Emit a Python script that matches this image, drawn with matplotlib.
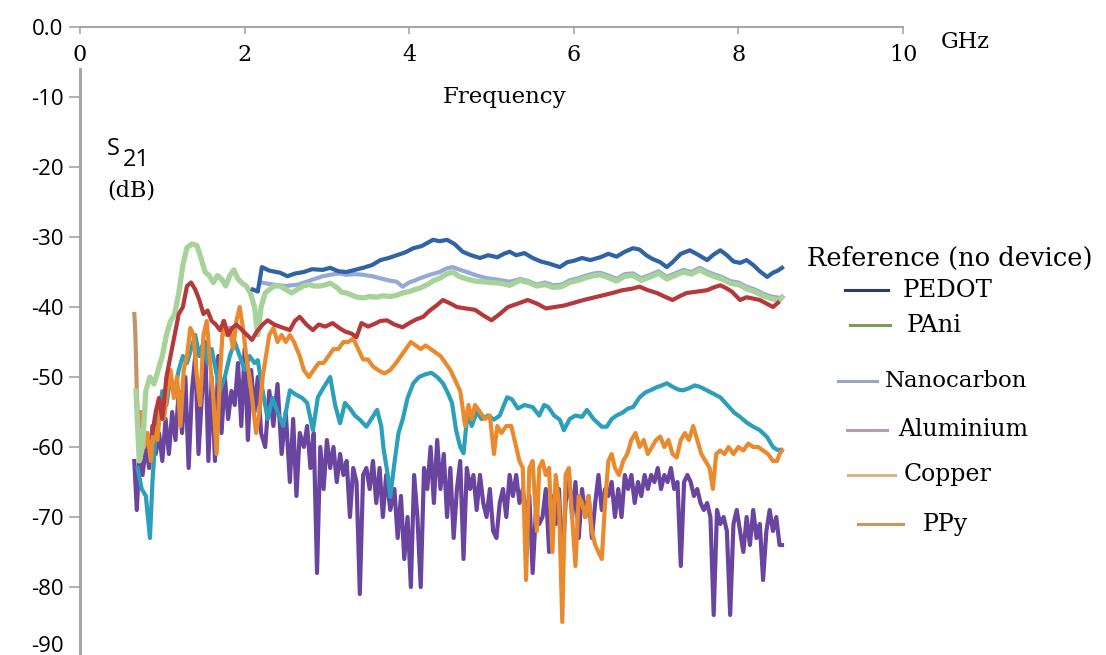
import matplotlib
matplotlib.use("Agg")
import matplotlib.pyplot as plt
from matplotlib.lines import Line2D

plt.rcParams['font.family'] = ['DejaVu Serif']
SANS = ['Open Sans', 'DejaVu Sans']

# ------------------------------
# Data (frequency in GHz, S21 in dB)
blue_f = [2.10, 2.16, 2.21, 2.30, 2.43, 2.52, 2.62, 2.72, 2.82, 2.95, 3.04, 3.14, 3.24, 3.34, 3.44, 3.55,
          3.65, 3.75, 3.85, 3.95, 4.05, 4.15, 4.29, 4.37, 4.46, 4.55, 4.65, 4.75, 4.86, 4.96, 5.07, 5.15,
          5.22, 5.30, 5.40, 5.50, 5.60, 5.70, 5.83, 5.92, 6.00, 6.10, 6.20, 6.32, 6.42, 6.52, 6.62, 6.72,
          6.80, 6.88, 6.95, 7.05, 7.13, 7.20, 7.30, 7.41, 7.52, 7.62, 7.70, 7.78, 7.86, 7.94, 8.02, 8.10,
          8.18, 8.26, 8.35, 8.42, 8.48, 8.53]
blue_db = [-37.5, -37.8, -34.3, -34.8, -35.1, -35.6, -35.2, -35.0, -34.6, -34.7, -34.4, -34.9, -35.0, -34.7,
           -34.4, -34.0, -33.3, -33.0, -32.6, -32.2, -31.6, -31.3, -30.4, -30.6, -30.4, -31.0, -32.1, -32.6,
           -33.0, -32.6, -32.9, -32.4, -32.1, -32.6, -32.3, -33.0, -33.5, -33.8, -34.3, -33.6, -33.4, -33.0,
           -33.3, -32.9, -32.4, -32.8, -32.1, -31.6, -31.8, -32.6, -33.1, -33.6, -34.3, -33.6, -32.4, -31.9,
           -32.6, -33.3, -32.5, -31.9, -32.6, -33.5, -33.7, -33.3, -34.0, -34.9, -35.7, -35.1, -34.8, -34.4]

lblue_f = [2.20, 2.35, 2.50, 2.65, 2.80, 2.95, 3.04, 3.15, 3.24, 3.34, 3.44, 3.55, 3.65, 3.75, 3.85, 3.92,
           4.00, 4.07, 4.13, 4.25, 4.37, 4.45, 4.53, 4.62, 4.70, 4.82, 4.95, 5.08, 5.22, 5.35, 5.45, 5.55,
           5.65, 5.75, 5.85, 5.95, 6.05, 6.15, 6.25, 6.32, 6.42, 6.52, 6.62, 6.72, 6.82, 6.93, 7.03, 7.13,
           7.23, 7.33, 7.43, 7.53, 7.63, 7.72, 7.80, 7.90, 8.00, 8.10, 8.20, 8.30, 8.40, 8.50]
lblue_db = [-36.5, -36.8, -37.0, -36.8, -36.2, -35.6, -35.4, -35.2, -35.4, -35.3, -35.4, -35.6, -35.9, -36.2,
            -36.4, -37.1, -36.5, -36.2, -35.9, -35.4, -35.0, -34.5, -34.3, -34.7, -35.0, -35.5, -35.9, -36.1,
            -36.4, -36.0, -36.3, -36.8, -36.5, -36.9, -36.8, -36.2, -35.9, -35.5, -35.2, -35.1, -35.5, -36.0,
            -35.3, -35.2, -35.9, -35.4, -34.9, -35.7, -35.2, -34.7, -35.0, -34.4, -35.0, -35.4, -35.7, -36.3,
            -36.5, -37.1, -37.5, -38.1, -38.5, -38.7]

green_f = [0.68, 0.72, 0.76, 0.80, 0.85, 0.90, 0.95, 1.00, 1.05, 1.10, 1.15, 1.20, 1.25, 1.30, 1.36, 1.42,
           1.47, 1.52, 1.57, 1.62, 1.67, 1.72, 1.77, 1.82, 1.87, 1.92, 1.97, 2.02, 2.07, 2.12, 2.16, 2.20,
           2.25, 2.30, 2.36, 2.43, 2.50, 2.57, 2.64, 2.71, 2.78, 2.85, 2.92, 2.99, 3.04, 3.12, 3.18, 3.24,
           3.30, 3.37, 3.44, 3.52, 3.60, 3.68, 3.77, 3.85, 3.92, 4.00, 4.07, 4.13, 4.22, 4.30, 4.37, 4.45,
           4.53, 4.60, 4.70, 4.80, 4.90, 5.00, 5.10, 5.22, 5.35, 5.45, 5.55, 5.65, 5.75, 5.85, 5.95, 6.05,
           6.15, 6.25, 6.32, 6.42, 6.52, 6.62, 6.72, 6.82, 6.93, 7.03, 7.13, 7.23, 7.33, 7.43, 7.53, 7.63,
           7.72, 7.80, 7.90, 8.00, 8.10, 8.20, 8.30, 8.40, 8.50, 8.53]
green_db = [-52.0, -62.0, -60.0, -52.0, -50.0, -51.0, -49.0, -47.0, -44.0, -42.0, -41.0, -38.0, -34.0, -31.5,
            -31.0, -31.2, -33.0, -35.0, -35.5, -36.5, -35.5, -36.0, -37.0, -35.5, -34.7, -36.0, -36.6, -37.0,
            -38.0, -40.0, -44.0, -40.0, -38.0, -37.5, -37.0, -37.0, -37.5, -38.0, -37.5, -37.0, -36.8, -37.0,
            -37.0, -36.8, -36.6, -37.2, -37.9, -38.0, -38.3, -38.6, -38.7, -38.5, -38.6, -38.4, -38.5, -38.3,
            -38.0, -37.8, -37.5, -37.3, -36.8, -36.2, -35.9, -35.3, -35.0, -35.6, -36.0, -36.3, -36.4, -36.5,
            -36.6, -36.9, -36.2, -36.5, -37.0, -36.8, -37.2, -37.1, -36.5, -36.2, -35.8, -35.5, -35.4, -35.8,
            -36.3, -35.6, -35.5, -36.2, -35.7, -35.2, -36.0, -35.5, -35.0, -35.3, -34.7, -35.3, -35.7, -36.0,
            -36.6, -36.8, -37.4, -37.8, -38.4, -38.8, -39.0, -38.6]

red_f = [0.88, 0.92, 0.96, 1.00, 1.05, 1.10, 1.15, 1.20, 1.25, 1.30, 1.35, 1.40, 1.45, 1.50, 1.55, 1.60,
         1.65, 1.70, 1.75, 1.80, 1.85, 1.90, 1.97, 2.03, 2.09, 2.15, 2.22, 2.28, 2.36, 2.45, 2.55, 2.61,
         2.67, 2.75, 2.83, 2.90, 2.98, 3.07, 3.15, 3.22, 3.30, 3.36, 3.42, 3.50, 3.58, 3.65, 3.73, 3.82,
         3.92, 4.00, 4.08, 4.17, 4.25, 4.33, 4.41, 4.50, 4.58, 4.68, 4.80, 4.90, 5.00, 5.10, 5.20, 5.30,
         5.44, 5.55, 5.66, 5.77, 5.88, 6.00, 6.12, 6.26, 6.40, 6.50, 6.59, 6.70, 6.80, 6.90, 7.01, 7.10,
         7.20, 7.28, 7.37, 7.50, 7.62, 7.70, 7.78, 7.85, 7.92, 8.02, 8.10, 8.18, 8.26, 8.34, 8.42, 8.48]
red_db = [-58.0, -55.0, -53.0, -56.0, -50.0, -47.0, -44.0, -41.0, -40.0, -37.0, -36.5, -37.5, -39.0, -41.0,
          -40.5, -42.0, -42.5, -43.3, -42.0, -44.0, -43.0, -42.5, -43.3, -44.0, -44.7, -43.5, -42.5, -41.9,
          -42.5, -42.9, -43.3, -42.0, -41.4, -42.5, -43.3, -42.5, -42.8, -42.3, -43.0, -43.5, -43.8, -44.3,
          -42.3, -42.8, -42.4, -42.0, -41.9, -42.5, -42.9, -42.3, -41.8, -41.4, -40.5, -39.8, -39.0, -39.5,
          -40.0, -40.2, -40.4, -41.2, -41.9, -41.0, -40.0, -39.6, -39.0, -39.5, -40.2, -40.0, -39.8, -39.4,
          -39.0, -38.6, -38.2, -37.9, -37.6, -37.4, -37.1, -37.6, -38.0, -38.5, -39.0, -38.5, -38.0, -37.8,
          -37.6, -37.2, -36.9, -37.3, -37.8, -39.0, -38.6, -38.8, -39.0, -39.5, -40.0, -39.4]

teal_f = [0.70, 0.75, 0.80, 0.85, 0.88, 0.92, 0.96, 1.00, 1.05, 1.10, 1.15, 1.20, 1.25, 1.30, 1.35, 1.40,
          1.45, 1.50, 1.55, 1.60, 1.65, 1.70, 1.76, 1.82, 1.88, 1.94, 2.00, 2.06, 2.12, 2.16, 2.22, 2.28,
          2.34, 2.40, 2.47, 2.55, 2.62, 2.70, 2.76, 2.83, 2.89, 2.96, 3.04, 3.10, 3.16, 3.22, 3.28, 3.34,
          3.40, 3.48, 3.54, 3.61, 3.66, 3.69, 3.74, 3.77, 3.82, 3.87, 3.92, 3.98, 4.05, 4.12, 4.20, 4.27,
          4.34, 4.41, 4.47, 4.52, 4.57, 4.62, 4.66, 4.71, 4.76, 4.82, 4.88, 4.96, 5.03, 5.10, 5.19, 5.25,
          5.32, 5.40, 5.50, 5.58, 5.64, 5.69, 5.76, 5.83, 5.88, 5.95, 6.02, 6.10, 6.16, 6.24, 6.34, 6.40,
          6.46, 6.52, 6.59, 6.66, 6.72, 6.80, 6.87, 6.93, 7.00, 7.07, 7.13, 7.20, 7.27, 7.33, 7.40, 7.47,
          7.53, 7.60, 7.68, 7.78, 7.88, 7.95, 8.02, 8.10, 8.18, 8.26, 8.35, 8.42, 8.47, 8.52]
teal_db = [-63.0, -66.0, -67.0, -73.0, -65.0, -58.0, -55.0, -52.0, -54.0, -50.0, -52.0, -49.0, -47.0, -48.0,
           -46.0, -44.0, -47.0, -45.0, -48.0, -46.0, -49.0, -52.0, -50.0, -47.0, -45.0, -47.0, -49.0, -47.0,
           -48.0, -47.6, -52.0, -56.0, -53.0, -55.0, -57.0, -51.9, -52.5, -53.0, -53.7, -57.6, -52.9, -51.5,
           -50.0, -54.0, -56.6, -53.7, -54.5, -55.5, -56.1, -57.1, -56.0, -54.7, -57.0, -60.4, -64.0, -67.1,
           -62.3, -58.0, -56.1, -53.0, -50.9, -50.0, -49.6, -49.4, -50.0, -50.9, -52.3, -53.7, -57.6, -60.0,
           -60.9, -55.0, -57.0, -55.0, -56.0, -55.5, -56.1, -55.5, -52.9, -53.2, -54.5, -54.0, -54.3, -55.5,
           -54.0, -54.3, -55.5, -56.1, -57.6, -56.0, -55.5, -55.7, -54.7, -56.0, -57.1, -57.1, -56.0, -55.5,
           -55.1, -54.5, -54.3, -52.9, -52.2, -51.9, -51.5, -51.2, -50.9, -51.4, -51.8, -51.9, -51.6, -51.2,
           -51.4, -51.8, -52.3, -52.9, -54.2, -55.1, -55.7, -56.5, -57.1, -57.6, -58.6, -60.0, -60.4, -60.4]

orange_f = [0.70, 0.74, 0.78, 0.82, 0.86, 0.90, 0.94, 0.98, 1.02, 1.06, 1.10, 1.14, 1.18, 1.22, 1.26, 1.30,
            1.34, 1.38, 1.42, 1.46, 1.50, 1.54, 1.58, 1.62, 1.66, 1.70, 1.74, 1.78, 1.82, 1.86, 1.90, 1.94,
            1.98, 2.02, 2.06, 2.10, 2.14, 2.18, 2.22, 2.26, 2.30, 2.35, 2.40, 2.45, 2.50, 2.55, 2.60, 2.67,
            2.72, 2.78, 2.84, 2.90, 2.96, 3.02, 3.08, 3.14, 3.20, 3.26, 3.32, 3.38, 3.44, 3.50, 3.56, 3.62,
            3.70, 3.77, 3.84, 3.90, 3.96, 4.02, 4.08, 4.14, 4.20, 4.26, 4.32, 4.38, 4.44, 4.50, 4.56, 4.62,
            4.68, 4.72, 4.76, 4.80, 4.86, 4.92, 4.98, 5.03, 5.07, 5.12, 5.18, 5.24, 5.30, 5.34, 5.38, 5.42,
            5.46, 5.50, 5.55, 5.58, 5.62, 5.66, 5.70, 5.74, 5.78, 5.82, 5.86, 5.90, 5.94, 5.98, 6.02, 6.06,
            6.10, 6.14, 6.18, 6.22, 6.26, 6.30, 6.34, 6.38, 6.42, 6.46, 6.50, 6.55, 6.60, 6.65, 6.70, 6.75,
            6.80, 6.85, 6.90, 6.95, 7.00, 7.05, 7.10, 7.15, 7.20, 7.25, 7.30, 7.35, 7.40, 7.45, 7.50, 7.55,
            7.60, 7.65, 7.69, 7.73, 7.78, 7.83, 7.88, 7.94, 8.00, 8.06, 8.12, 8.18, 8.24, 8.30, 8.36, 8.42,
            8.47, 8.50, 8.53]
orange_db = [-57.0, -55.0, -60.0, -58.0, -62.0, -57.0, -59.0, -54.0, -56.0, -52.0, -49.0, -53.0, -50.0, -57.0,
             -49.0, -47.0, -43.0, -44.0, -50.0, -54.0, -44.0, -42.0, -48.0, -53.0, -61.0, -50.0, -42.0, -44.0,
             -43.0, -46.0, -42.0, -40.0, -43.0, -47.0, -50.0, -54.0, -58.0, -55.0, -50.0, -47.0, -44.0, -43.0,
             -45.0, -44.0, -45.0, -44.0, -45.0, -47.0, -49.0, -50.0, -49.0, -48.0, -48.0, -47.0, -46.0, -46.0,
             -45.0, -45.0, -44.5, -46.0, -47.5, -47.5, -48.5, -49.0, -49.5, -49.0, -48.0, -47.0, -46.0, -45.0,
             -45.5, -46.0, -45.5, -46.0, -46.5, -47.0, -48.0, -49.0, -50.5, -52.0, -57.0, -54.0, -56.0, -54.0,
             -55.0, -56.0, -55.5, -61.0, -57.0, -58.0, -57.0, -57.0, -60.0, -62.0, -63.0, -79.0, -63.0, -62.0,
             -72.0, -63.0, -62.0, -64.0, -63.0, -75.0, -64.0, -68.0, -85.0, -64.0, -63.0, -70.0, -77.0, -67.0,
             -68.0, -70.0, -67.0, -72.0, -74.0, -75.0, -76.0, -68.0, -62.0, -61.0, -63.0, -64.0, -62.0, -61.0,
             -59.0, -58.0, -60.0, -59.0, -61.0, -60.0, -59.0, -58.5, -60.0, -59.0, -61.0, -61.5, -59.0, -58.0,
             -59.0, -57.0, -59.0, -61.0, -62.0, -63.0, -66.0, -61.0, -60.5, -61.0, -60.0, -61.0, -60.0, -60.5,
             -59.5, -60.0, -60.0, -60.5, -61.0, -62.0, -62.0, -61.0, -60.5]

tan_f = [0.66, 0.67, 0.68, 0.69, 0.70, 0.72]
tan_db = [-41.0, -43.0, -47.0, -52.0, -55.0, -57.0]

purple_f = [0.66, 0.69, 0.72, 0.76, 0.80, 0.84, 0.88, 0.92, 0.96, 1.00, 1.04, 1.08, 1.12, 1.16, 1.20, 1.24,
            1.28, 1.32, 1.36, 1.40, 1.44, 1.48, 1.52, 1.56, 1.60, 1.64, 1.68, 1.72, 1.76, 1.80, 1.84, 1.88,
            1.92, 1.96, 2.00, 2.04, 2.08, 2.12, 2.16, 2.20, 2.25, 2.30, 2.35, 2.40, 2.45, 2.50, 2.55, 2.59,
            2.63, 2.67, 2.72, 2.76, 2.80, 2.84, 2.88, 2.92, 2.96, 3.00, 3.04, 3.08, 3.12, 3.16, 3.20, 3.24,
            3.28, 3.32, 3.36, 3.40, 3.44, 3.48, 3.52, 3.56, 3.60, 3.64, 3.68, 3.72, 3.77, 3.82, 3.86, 3.90,
            3.94, 3.98, 4.02, 4.06, 4.10, 4.14, 4.18, 4.22, 4.26, 4.30, 4.34, 4.38, 4.42, 4.46, 4.50, 4.54,
            4.58, 4.62, 4.66, 4.70, 4.74, 4.78, 4.82, 4.86, 4.90, 4.94, 4.98, 5.02, 5.06, 5.10, 5.14, 5.18,
            5.22, 5.26, 5.30, 5.34, 5.38, 5.42, 5.46, 5.50, 5.54, 5.58, 5.62, 5.66, 5.70, 5.74, 5.78, 5.82,
            5.86, 5.90, 5.94, 5.98, 6.02, 6.06, 6.10, 6.14, 6.18, 6.22, 6.26, 6.30, 6.34, 6.38, 6.42, 6.46,
            6.50, 6.54, 6.58, 6.62, 6.66, 6.70, 6.74, 6.78, 6.82, 6.86, 6.90, 6.94, 6.98, 7.02, 7.06, 7.10,
            7.14, 7.18, 7.22, 7.26, 7.30, 7.34, 7.38, 7.42, 7.46, 7.50, 7.54, 7.58, 7.62, 7.66, 7.70, 7.74,
            7.78, 7.82, 7.86, 7.90, 7.94, 7.98, 8.02, 8.06, 8.10, 8.14, 8.18, 8.22, 8.26, 8.30, 8.34, 8.38,
            8.42, 8.46, 8.50, 8.53]
purple_db = [-62, -69, -62, -64, -60, -63, -57, -61, -58, -62, -56, -61, -55, -59, -52, -58,
             -50, -63, -52, -47, -61, -53, -45, -62, -50, -62, -47, -58, -50, -56, -52, -54,
             -48, -57, -46, -59, -49, -55, -50, -58, -60, -52, -57, -51, -61, -55, -65, -56,
             -67, -58, -60, -57, -63, -58, -78, -60, -66, -59, -63, -60, -65, -61, -64, -62,
             -70, -63, -65, -81, -64, -63, -66, -62, -68, -63, -70, -64, -69, -66, -73, -67,
             -76, -70, -80, -64, -70, -80, -63, -66, -60, -68, -59, -66, -61, -70, -63, -73,
             -66, -62, -76, -63, -66, -64, -69, -64, -68, -70, -66, -72, -73, -68, -66, -70,
             -64, -67, -64, -68, -66, -70, -67, -78, -69, -71, -70, -66, -75, -67, -71, -66,
             -77, -68, -64, -70, -65, -73, -66, -70, -67, -73, -68, -64, -69, -66, -67, -65,
             -70, -66, -70, -64, -66, -64, -68, -65, -67, -64, -66, -64, -65, -63, -66, -64,
             -65, -63, -66, -65, -77, -65, -64, -65, -67, -66, -68, -69, -68, -70, -84, -69,
             -71, -70, -72, -84, -71, -69, -72, -75, -70, -74, -69, -73, -71, -79, -72, -69,
             -72, -70, -74, -74]

y_ticks = [0, -10, -20, -30, -40, -50, -60, -70, -80, -90]
y_tick_labels = ["0.0", "-10", "-20", "-30", "-40", "-50", "-60", "-70", "-80", "-90"]
x_ticks = [0, 2, 4, 6, 8, 10]

legend_labels = ["PEDOT", "PAni", "Nanocarbon", "Aluminium", "Copper", "PPy"]
legend_colors = ["#2d3b68", "#7d9a58", "#9ba7b9", "#b69bb6", "#d4b68c", "#c9955c"]

# ------------------------------
W, H = 1106, 655
fig = plt.figure(figsize=(W / 100, H / 100), dpi=100)
ax = fig.add_axes([80 / W, 1 - 657 / H, (903 - 80) / W, (657 - 27) / H])
ax.set_xlim(0, 10)
ax.set_ylim(-90, 0)

lw = 3.0
ax.plot(purple_f, purple_db, color="#6a45a0", lw=lw)
ax.plot(teal_f, teal_db, color="#2c9fba", lw=lw)
ax.plot(orange_f, orange_db, color="#e98a2f", lw=lw)
ax.plot(tan_f, tan_db, color="#c39467", lw=lw)
ax.plot(lblue_f, lblue_db, color="#93a9d6", lw=lw)
ax.plot(green_f, green_db, color="#a9d29b", lw=lw + 0.8)
ax.plot(red_f, red_db, color="#b5383a", lw=lw)
ax.plot(blue_f, blue_db, color="#2f63a6", lw=lw)

# axes styling: x axis on top, y axis on the left
for s in ["right", "bottom"]:
    ax.spines[s].set_visible(False)
ax.spines["top"].set_color("#a6a6a6")
ax.spines["left"].set_color("#a6a6a6")
ax.spines["top"].set_linewidth(1.5)
ax.spines["left"].set_linewidth(2.2)
ax.spines["left"].set_bounds(-90, -6)

ax.xaxis.tick_top()
ax.set_xticks(x_ticks)
ax.set_xticklabels([str(t) for t in x_ticks])
ax.tick_params(axis="x", direction="in", length=5, width=1.2, color="#a6a6a6",
               pad=-28, labelsize=16)
ax.set_yticks(y_ticks)
ax.set_yticklabels(y_tick_labels, family=SANS)
ax.tick_params(axis="y", direction="out", length=8, width=1.2, color="#a6a6a6",
               pad=4, labelsize=16)
ax.get_yticklabels()[-1].set_va("bottom")

# texts
def fx(px):
    return px / W

def fy(py):
    return 1 - py / H

fig.text(fx(505), fy(97), "Frequency", ha="center", va="center", fontsize=16.5)
fig.text(fx(965), fy(42), "GHz", ha="center", va="center", fontsize=16)
fig.text(fx(107), fy(149), "S", ha="left", va="center", fontsize=17, family=SANS)
fig.text(fx(123), fy(160), "21", ha="left", va="center", fontsize=17, family=SANS)
fig.text(fx(107), fy(190), "(dB)", ha="left", va="center", fontsize=16)

# legend drawn by hand to follow the uneven spacing in the original
fig.text(fx(807), fy(258), "Reference (no device)", ha="left", va="center", fontsize=18.5)
leg_line_x = [(845, 888), (850, 890), (838, 877), (847, 887), (848, 895), (858, 903)]
leg_text_x = [903, 907, 885, 898, 904, 923]
leg_y = [290, 325, 381, 430, 475, 524]
leg_size = [17.5, 17.5, 16.5, 17, 17, 17]
for lab, col, (x0, x1), tx, yy, fs in zip(legend_labels, legend_colors, leg_line_x, leg_text_x, leg_y, leg_size):
    fig.add_artist(Line2D([fx(x0), fx(x1)], [fy(yy), fy(yy)], color=col, lw=2.2))
    fig.text(fx(tx), fy(yy), lab, ha="left", va="center", fontsize=fs)

fig.savefig("out.png", dpi=100)
